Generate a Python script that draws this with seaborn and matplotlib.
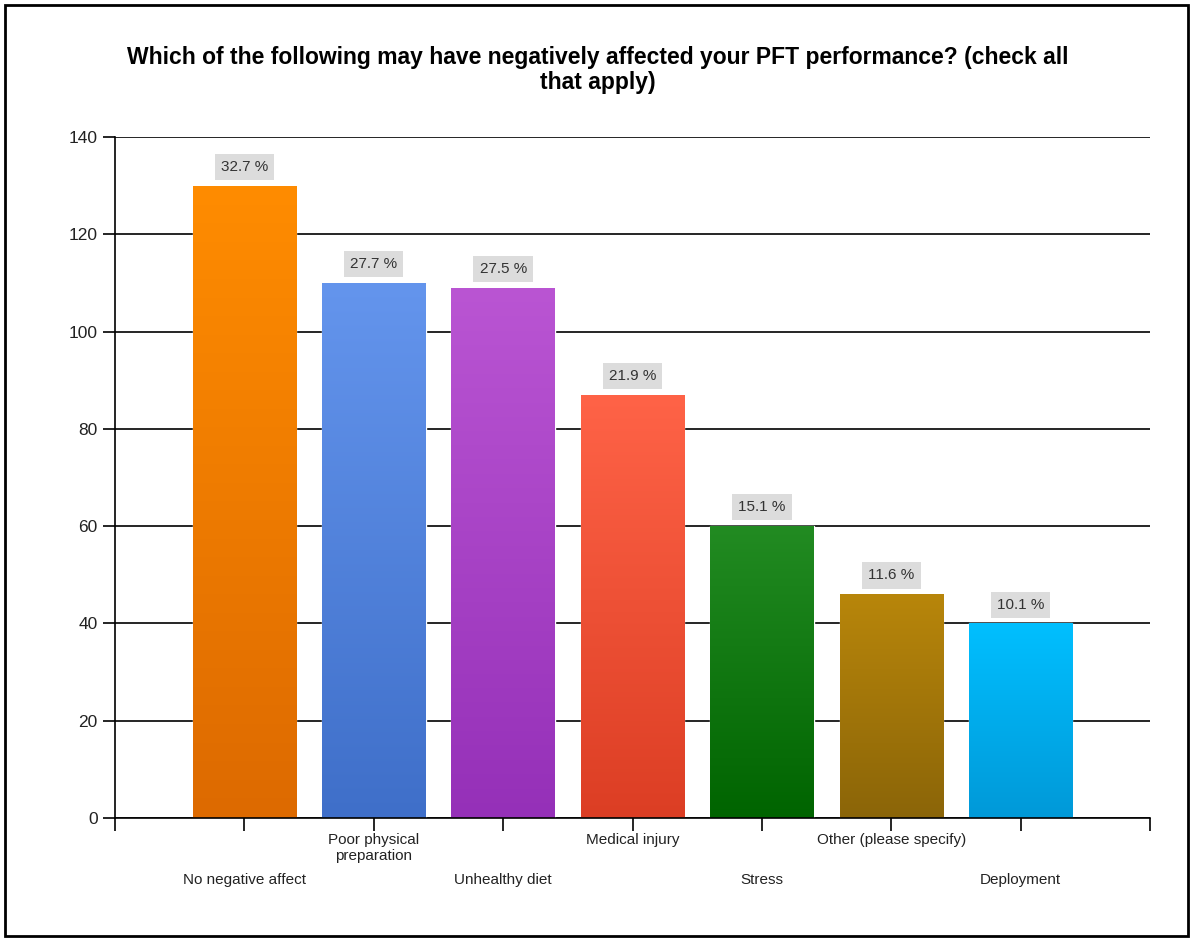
import numpy as np
import matplotlib
matplotlib.use('Agg')
import matplotlib.pyplot as plt
import seaborn as sns
from matplotlib.colors import to_rgb
from matplotlib.patches import Rectangle
from matplotlib.transforms import ScaledTranslation

categories = ['No negative affect', 'Poor physical\npreparation', 'Unhealthy diet',
              'Medical injury', 'Stress', 'Other (please specify)', 'Deployment']
counts = [130, 110, 109, 87, 60, 46, 40]
percents = [32.7, 27.7, 27.5, 21.9, 15.1, 11.6, 10.1]
top_colors = ['#FF8C00', '#6495ED', '#BA55D3', '#FF6347', '#228B22', '#B8860B', '#00BFFF']
bottom_colors = ['#DD6A00', '#3F6FC9', '#9530B8', '#DC3E24', '#006400', '#8B6508', '#0099D8']
y_ticks = [0, 20, 40, 60, 80, 100, 120, 140]

title = ('Which of the following may have negatively affected your PFT performance? (check all\n'
         'that apply)')

sns.set_style('white')
plt.rcParams['font.family'] = ['Liberation Sans', 'DejaVu Sans']

fig = plt.figure(figsize=(11.93, 9.41), dpi=100)
ax = fig.add_axes([0.0964, 0.1307, 0.8676, 0.7237])

sns.barplot(x=categories, y=counts, hue=categories, palette=top_colors, legend=False,
            width=0.8, saturation=1, ax=ax, zorder=2)

# vertical gradient on every bar
for bar, c_top, c_bot in zip(ax.patches, top_colors, bottom_colors):
    x0, y0 = bar.get_x(), bar.get_y()
    w, h = bar.get_width(), bar.get_height()
    grad = np.linspace(to_rgb(c_top), to_rgb(c_bot), 256).reshape(256, 1, 3)
    img = ax.imshow(grad, extent=(x0, x0 + w, y0, y0 + h), aspect='auto',
                    origin='upper', zorder=2.5)
    img.set_clip_path(bar)

ax.set_xlim(-1, 7)
ax.set_ylim(0, 140)
ax.set_yticks(y_ticks)
ax.set_xticks(range(-1, 8))
ax.set_xticklabels([''] + categories + [''])
ax.set_xlabel('')
ax.set_ylabel('')

ax.yaxis.grid(True, color='black', lw=1.2)
ax.xaxis.grid(False)
ax.set_axisbelow(True)
for side in ['top', 'right']:
    ax.spines[side].set_visible(False)
for side in ['left', 'bottom']:
    ax.spines[side].set_color('black')
    ax.spines[side].set_linewidth(1.2)

ax.tick_params(axis='x', bottom=True, direction='out', length=9, width=1.2, color='black',
               pad=2, labelsize=11, labelcolor='#222222')
ax.tick_params(axis='y', left=True, direction='out', length=9, width=1.2, color='black',
               pad=3.5, labelsize=12.5, labelcolor='#222222')

# staggered category labels: odd positions drop to a lower row
shift = ScaledTranslation(0, -0.4, fig.dpi_scale_trans)
for i, lab in enumerate(ax.get_xticklabels()):
    if i in (1, 3, 5, 7):
        lab.set_transform(lab.get_transform() + shift)

for i, (c, p) in enumerate(zip(counts, percents)):
    ax.annotate(f'{p} %', xy=(i, c), xytext=(0, 8.5), textcoords='offset points',
                ha='center', va='bottom', fontsize=11, color='#333333', zorder=4,
                bbox=dict(boxstyle='square,pad=0.4', fc='#DCDCDC', ec='none'))

fig.text(0.501, 0.9256, title, ha='center', va='center', fontsize=16.5,
         fontweight='bold', color='black', linespacing=1.1)

fig.patches.append(Rectangle((5 / 1193, 5 / 941), 1183 / 1193, 931 / 941,
                             transform=fig.transFigure, fill=False, ec='black', lw=2))

fig.savefig('out.png', dpi=100)
